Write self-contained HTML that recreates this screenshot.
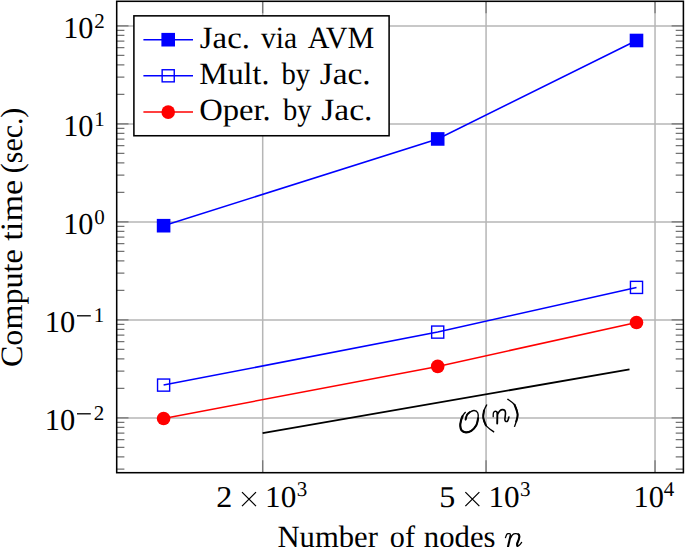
<!DOCTYPE html><html><head><meta charset="utf-8"><style>html,body{margin:0;padding:0;background:#fff;width:685px;height:547px;overflow:hidden}svg{display:block}text{font-family:"Liberation Serif", serif;fill:#000;text-rendering:geometricPrecision}</style></head><body>
<svg width="685" height="547" viewBox="0 0 685 547">
<path d="M116.7 417.90H683.4M116.7 319.90H683.4M116.7 221.90H683.4M116.7 123.90H683.4M116.7 25.90H683.4M262.70 1.3V472.7M486.06 1.3V472.7M655.03 1.3V472.7" stroke="#b6b6b6" stroke-width="1.5" fill="none"/>
<path d="M116.7 469.14h7.7M683.4 469.14h-7.7M116.7 456.90h7.7M683.4 456.90h-7.7M116.7 447.40h7.7M683.4 447.40h-7.7M116.7 439.64h7.7M683.4 439.64h-7.7M116.7 433.08h7.7M683.4 433.08h-7.7M116.7 427.40h7.7M683.4 427.40h-7.7M116.7 422.38h7.7M683.4 422.38h-7.7M116.7 417.90h11.8M683.4 417.90h-11.8M116.7 388.40h7.7M683.4 388.40h-7.7M116.7 371.14h7.7M683.4 371.14h-7.7M116.7 358.90h7.7M683.4 358.90h-7.7M116.7 349.40h7.7M683.4 349.40h-7.7M116.7 341.64h7.7M683.4 341.64h-7.7M116.7 335.08h7.7M683.4 335.08h-7.7M116.7 329.40h7.7M683.4 329.40h-7.7M116.7 324.38h7.7M683.4 324.38h-7.7M116.7 319.90h11.8M683.4 319.90h-11.8M116.7 290.40h7.7M683.4 290.40h-7.7M116.7 273.14h7.7M683.4 273.14h-7.7M116.7 260.90h7.7M683.4 260.90h-7.7M116.7 251.40h7.7M683.4 251.40h-7.7M116.7 243.64h7.7M683.4 243.64h-7.7M116.7 237.08h7.7M683.4 237.08h-7.7M116.7 231.40h7.7M683.4 231.40h-7.7M116.7 226.38h7.7M683.4 226.38h-7.7M116.7 221.90h11.8M683.4 221.90h-11.8M116.7 192.40h7.7M683.4 192.40h-7.7M116.7 175.14h7.7M683.4 175.14h-7.7M116.7 162.90h7.7M683.4 162.90h-7.7M116.7 153.40h7.7M683.4 153.40h-7.7M116.7 145.64h7.7M683.4 145.64h-7.7M116.7 139.08h7.7M683.4 139.08h-7.7M116.7 133.40h7.7M683.4 133.40h-7.7M116.7 128.38h7.7M683.4 128.38h-7.7M116.7 123.90h11.8M683.4 123.90h-11.8M116.7 94.40h7.7M683.4 94.40h-7.7M116.7 77.14h7.7M683.4 77.14h-7.7M116.7 64.90h7.7M683.4 64.90h-7.7M116.7 55.40h7.7M683.4 55.40h-7.7M116.7 47.64h7.7M683.4 47.64h-7.7M116.7 41.08h7.7M683.4 41.08h-7.7M116.7 35.40h7.7M683.4 35.40h-7.7M116.7 30.38h7.7M683.4 30.38h-7.7M116.7 25.90h11.8M683.4 25.90h-11.8M262.70 472.7v-12.5M262.70 1.3v12M486.06 472.7v-12.5M486.06 1.3v12M655.03 472.7v-12.5M655.03 1.3v12" stroke="#737373" stroke-width="1.2" fill="none"/>
<path d="M262.6 433.2L629.5 369.4" stroke="#000" stroke-width="1.8" fill="none"/>
<path d="M163.6 225.7L437.7 138.95L636.5 40.5" stroke="#00f" stroke-width="1.5" fill="none"/>
<path d="M163.6 385.1L437.7 332.1L636.5 287.4" stroke="#00f" stroke-width="1.5" fill="none"/>
<path d="M163.6 418.5L437.7 366.4L636.5 322.5" stroke="#f00" stroke-width="1.5" fill="none"/>
<rect x="156.80" y="218.90" width="13.6" height="13.6" fill="#00f"/>
<rect x="430.90" y="132.15" width="13.6" height="13.6" fill="#00f"/>
<rect x="629.70" y="33.70" width="13.6" height="13.6" fill="#00f"/>
<rect x="157.55" y="379.05" width="12.1" height="12.1" fill="none" stroke="#00f" stroke-width="1.4"/>
<rect x="431.65" y="326.05" width="12.1" height="12.1" fill="none" stroke="#00f" stroke-width="1.4"/>
<rect x="630.45" y="281.35" width="12.1" height="12.1" fill="none" stroke="#00f" stroke-width="1.4"/>
<circle cx="163.6" cy="418.5" r="6.8" fill="#f00"/>
<circle cx="437.7" cy="366.4" r="6.8" fill="#f00"/>
<circle cx="636.5" cy="322.5" r="6.8" fill="#f00"/>
<rect x="116.7" y="1.3" width="566.70" height="471.40" fill="none" stroke="#000" stroke-width="1.55"/>
<rect x="133.9" y="15.85" width="255.20" height="119.90" fill="#fff" stroke="#000" stroke-width="1.55"/>
<path d="M143.4 39.70H193.0" stroke="#00f" stroke-width="1.5"/>
<rect x="161.40" y="32.90" width="13.6" height="13.6" fill="#00f"/>
<path d="M143.4 75.80H193.0" stroke="#00f" stroke-width="1.5"/>
<rect x="162.15" y="69.75" width="12.1" height="12.1" fill="none" stroke="#00f" stroke-width="1.4"/>
<path d="M143.4 112.10H193.0" stroke="#f00" stroke-width="1.5"/>
<circle cx="168.2" cy="112.10" r="6.8" fill="#f00"/>
<text transform="translate(199.84 47.50) scale(1.0578 1)" font-size="31">Jac.</text>
<text transform="translate(261.00 47.50) scale(0.9537 1)" font-size="31">via</text>
<text transform="translate(307.80 47.50) scale(0.9715 1)" font-size="31">AVM</text>
<text transform="translate(199.22 83.85) scale(1.0310 1)" font-size="31">Mult.</text>
<text transform="translate(281.40 83.85) scale(0.9249 1)" font-size="31">by</text>
<text transform="translate(319.63 83.85) scale(1.0779 1)" font-size="31">Jac.</text>
<text transform="translate(199.19 120.10) scale(1.0526 1)" font-size="31">Oper.</text>
<text transform="translate(283.00 120.10) scale(0.9217 1)" font-size="31">by</text>
<text transform="translate(321.33 120.10) scale(1.0801 1)" font-size="31">Jac.</text>
<text transform="translate(44.73 430.30) scale(1.0071 1)" font-size="30.3">10</text>
<rect x="77.0" y="413.15" width="13.8" height="1.3" fill="#000"/>
<text x="93.86" y="419.60" font-size="21">2</text>
<text transform="translate(44.73 332.30) scale(1.0071 1)" font-size="30.3">10</text>
<rect x="77.0" y="315.15" width="13.8" height="1.3" fill="#000"/>
<text x="93.86" y="321.60" font-size="21">1</text>
<text transform="translate(63.15 234.30) scale(0.9995 1)" font-size="30.3">10</text>
<text x="94.19" y="223.60" font-size="21">0</text>
<text transform="translate(63.15 136.30) scale(0.9995 1)" font-size="30.3">10</text>
<text x="94.19" y="125.60" font-size="21">1</text>
<text transform="translate(63.15 38.30) scale(0.9995 1)" font-size="30.3">10</text>
<text x="94.19" y="27.60" font-size="21">2</text>
<text transform="translate(216.34 506.50) scale(1.0577 1)" font-size="30.3">2</text><path d="M242.00 492.10L256.00 506.10M256.00 492.10L242.00 506.10" stroke="#000" stroke-width="1.25"/><text transform="translate(265.07 506.50) scale(1.0297 1)" font-size="30.3">10</text><text x="296.74" y="496.00" font-size="21">3</text>
<text transform="translate(439.22 506.50) scale(1.0577 1)" font-size="30.3">5</text><path d="M465.36 492.10L479.36 506.10M479.36 492.10L465.36 506.10" stroke="#000" stroke-width="1.25"/><text transform="translate(488.43 506.50) scale(1.0297 1)" font-size="30.3">10</text><text x="520.10" y="496.00" font-size="21">3</text>
<text transform="translate(633.54 506.50) scale(1.0033 1)" font-size="30.3">10</text>
<text x="663.82" y="496.0" font-size="21">4</text>
<text transform="translate(277.46 546.50) scale(0.9889 1)" font-size="31">Number</text>
<text transform="translate(389.87 546.50) scale(0.9738 1)" font-size="31">of</text>
<text transform="translate(423.81 546.50) scale(0.9926 1)" font-size="31">nodes</text>
<text transform="translate(21.60 367.08) rotate(-90) scale(1.0362 1)" font-size="31">Compute</text>
<text transform="translate(21.60 240.64) rotate(-90) scale(1.1041 1)" font-size="31">time</text>
<text transform="translate(21.60 173.17) rotate(-90) scale(0.9628 1)" font-size="31">(sec.)</text>
<path d="M465.60 419.60C465.83 418.82 466.32 416.13 467.00 414.90C467.68 413.67 468.52 412.93 469.70 412.20C470.88 411.47 472.77 410.42 474.10 410.50C475.43 410.58 477.03 411.42 477.70 412.70C478.37 413.98 478.33 416.10 478.10 418.20C477.87 420.30 477.43 423.20 476.30 425.30C475.17 427.40 473.03 429.62 471.30 430.80C469.57 431.98 467.53 432.48 465.90 432.40C464.27 432.32 462.43 431.38 461.50 430.30C460.57 429.22 460.40 427.47 460.30 425.90C460.20 424.33 460.52 422.55 460.90 420.90C461.28 419.25 461.87 417.42 462.60 416.00C463.33 414.58 464.85 413.00 465.30 412.40" stroke="#000" stroke-width="1.35" fill="none" stroke-linecap="round"/>
<path d="M478.10 418.20C477.80 419.38 477.43 423.20 476.30 425.30C475.17 427.40 473.03 429.62 471.30 430.80C469.57 431.98 467.53 432.48 465.90 432.40C464.27 432.32 462.43 431.38 461.50 430.30C460.57 429.22 460.40 427.47 460.30 425.90C460.20 424.33 460.52 422.55 460.90 420.90C461.28 419.25 462.32 416.82 462.60 416.00" stroke="#000" stroke-width="2.1" fill="none" stroke-linecap="round"/>
<path d="M465.60 419.60C465.83 418.82 466.32 416.13 467.00 414.90C467.68 413.67 469.25 412.65 469.70 412.20" stroke="#000" stroke-width="1.9" fill="none" stroke-linecap="round"/>
<path d="M486.90 404.40C486.42 405.43 484.60 408.35 484.00 410.60C483.40 412.85 482.98 415.45 483.30 417.90C483.62 420.35 484.10 422.92 485.90 425.30C487.70 427.68 492.73 431.05 494.10 432.20" stroke="#000" stroke-width="1.3" fill="none"/>
<path d="M484.00 410.60C483.88 411.82 482.98 415.45 483.30 417.90C483.62 420.35 485.47 424.07 485.90 425.30" stroke="#000" stroke-width="2.0" fill="none" stroke-linecap="round"/>
<path d="M507.40 398.90C508.60 399.88 512.90 402.23 514.60 404.80C516.30 407.37 517.33 411.50 517.60 414.30C517.87 417.10 516.73 419.50 516.20 421.60C515.67 423.70 514.70 426.02 514.40 426.90" stroke="#000" stroke-width="1.3" fill="none"/>
<path d="M514.60 404.80C515.10 406.38 517.33 411.50 517.60 414.30C517.87 417.10 516.43 420.38 516.20 421.60" stroke="#000" stroke-width="2.0" fill="none" stroke-linecap="round"/>
<path d="M493.20 416.70C493.23 416.08 493.13 413.88 493.40 413.00C493.67 412.12 494.27 411.63 494.80 411.40C495.33 411.17 496.17 411.33 496.60 411.60C497.03 411.87 497.27 412.77 497.40 413.00" stroke="#000" stroke-width="1.3" fill="none" stroke-linecap="round"/>
<path d="M497.4 412.6L497.2 423.6" stroke="#000" stroke-width="1.9" fill="none" stroke-linecap="round"/>
<path d="M497.60 414.00C498.02 413.43 499.28 411.33 500.10 410.60C500.92 409.87 501.73 409.63 502.50 409.60C503.27 409.57 504.20 409.83 504.70 410.40C505.20 410.97 505.43 411.88 505.50 413.00C505.57 414.12 505.20 415.95 505.10 417.10C505.00 418.25 504.77 419.17 504.90 419.90C505.03 420.63 505.43 421.37 505.90 421.50C506.37 421.63 507.20 421.43 507.70 420.70C508.20 419.97 508.70 417.70 508.90 417.10" stroke="#000" stroke-width="1.6" fill="none" stroke-linecap="round"/>
<path d="M505.50 537.60C505.72 537.05 506.32 534.97 506.80 534.30C507.28 533.63 507.87 533.68 508.40 533.60C508.93 533.52 509.63 533.43 510.00 533.80C510.37 534.17 510.50 535.47 510.60 535.80" stroke="#000" stroke-width="1.3" fill="none" stroke-linecap="round"/>
<path d="M510.6 535.6L507.8 547.6" stroke="#000" stroke-width="2.1" fill="none"/>
<path d="M510.30 538.40C510.68 537.78 511.73 535.48 512.60 534.70C513.47 533.92 514.52 533.75 515.50 533.70C516.48 533.65 517.85 533.93 518.50 534.40C519.15 534.87 519.40 535.53 519.40 536.50C519.40 537.47 518.87 539.03 518.50 540.20C518.13 541.37 517.38 542.53 517.20 543.50C517.02 544.47 517.07 545.70 517.40 546.00C517.73 546.30 518.50 545.90 519.20 545.30C519.90 544.70 521.20 542.88 521.60 542.40" stroke="#000" stroke-width="1.3" fill="none" stroke-linecap="round"/>
<path d="M518.50 534.40C518.65 534.75 519.40 535.53 519.40 536.50C519.40 537.47 518.87 539.03 518.50 540.20C518.13 541.37 517.38 542.53 517.20 543.50C517.02 544.47 517.37 545.58 517.40 546.00" stroke="#000" stroke-width="2.1" fill="none" stroke-linecap="round"/>
</svg></body></html>
